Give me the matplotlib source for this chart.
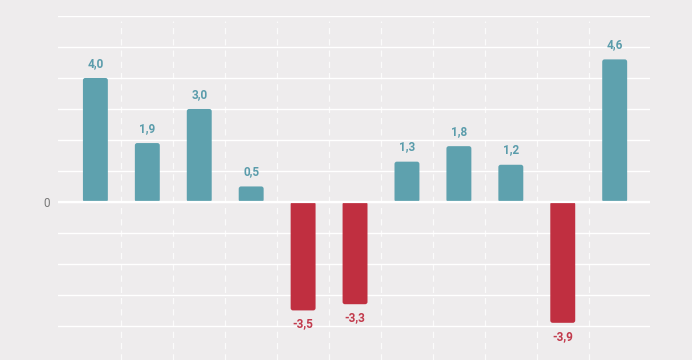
import numpy as np
import matplotlib.pyplot as plt
from matplotlib.patches import FancyBboxPatch

values = [4.0, 1.9, 3.0, 0.5, -3.5, -3.3, 1.3, 1.8, 1.2, -3.9, 4.6]
labels = ["4,0", "1,9", "3,0", "0,5", "-3,5", "-3,3", "1,3", "1,8", "1,2", "-3,9", "4,6"]

bg = "#eeeced"
teal = "#5ea1ae"
red = "#c02f40"
teal_txt = "#5a9cab"
red_txt = "#c23a4c"

plt.rcParams['font.family'] = ['Roboto', 'DejaVu Sans']

fig = plt.figure(figsize=(6.92, 3.60), dpi=100, facecolor=bg)
ax = fig.add_axes([58 / 692, 0, 592 / 692, 344 / 360])
ax.set_facecolor(bg)

x = np.arange(len(values))
colors = [teal if v >= 0 else red for v in values]
bars = ax.bar(x, values, width=0.48, color=colors, zorder=3)

# swap the plain rectangles for slightly rounded ones (positive heights only)
for b in bars:
    y0, h = b.get_y(), b.get_height()
    if h < 0:
        y0, h = y0 + h, -h
    r = FancyBboxPatch((b.get_x(), y0), b.get_width(), h,
                       boxstyle="round,pad=0,rounding_size=0.045",
                       mutation_aspect=1.68, fc=b.get_facecolor(), ec="none",
                       zorder=3)
    ax.add_patch(r)
    b.remove()

for xi, v, lab, c in zip(x, values, labels, colors):
    if v >= 0:
        ax.annotate(lab, (xi, v), xytext=(0, 6), textcoords="offset points",
                    ha="center", va="bottom", fontsize=8.5, fontweight="bold",
                    color=teal_txt)
    else:
        ax.annotate(lab, (xi, v), xytext=(0, -5), textcoords="offset points",
                    ha="center", va="top", fontsize=8.5, fontweight="bold",
                    color=red_txt)

ax.set_xlim(-0.72, 10.68)
ax.set_ylim(-5.1, 6)

# horizontal grid
for y in range(-4, 7):
    ax.axhline(y, color="white", lw=1.0, zorder=1)
ax.axhline(0, color="white", lw=1.6, zorder=4)

# dashed separators between bars
for xv in np.arange(0.5, len(values) - 1, 1.0):
    ax.axvline(xv, ymax=0.985, color="white", lw=0.9, ls=(0, (5, 4)),
               alpha=0.8, zorder=1)

ax.set_xticks([])
ax.set_yticks([0])
ax.set_yticklabels(["0"], color="#777777", fontsize=8.5)
ax.tick_params(axis="y", length=0, pad=6)
for s in ax.spines.values():
    s.set_visible(False)

fig.savefig("out.png", dpi=100, facecolor=bg)
